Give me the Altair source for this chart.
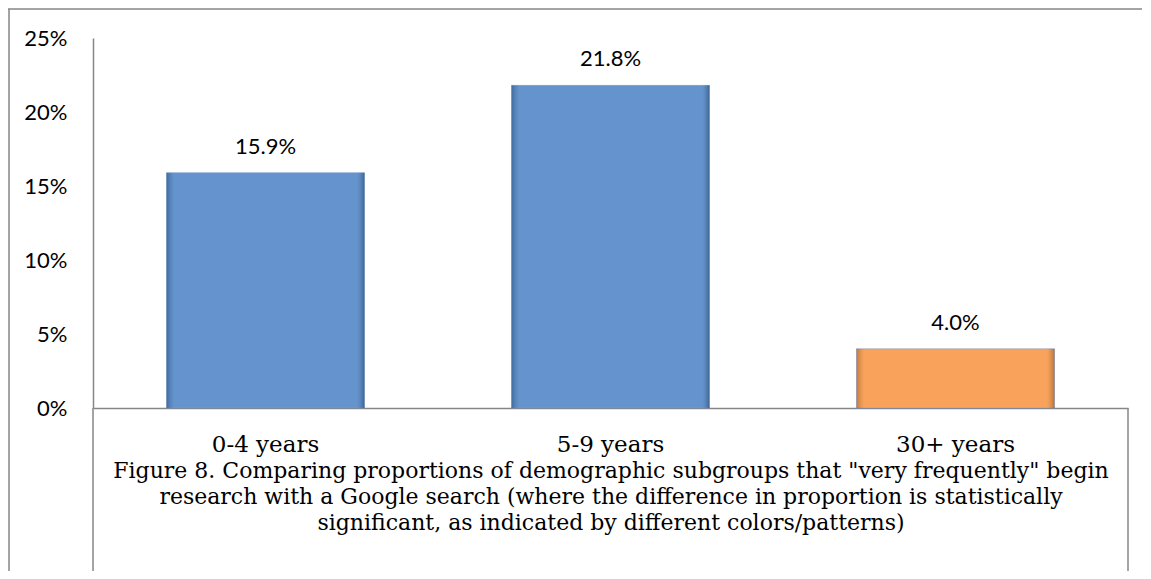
import altair as alt
import pandas as pd

categories = ["0-4 years", "5-9 years", "30+ years"]
values = [15.9, 21.8, 4.0]
groups = ["A", "A", "B"]
y_ticks = [0, 5, 10, 15, 20, 25]
caption = [
    'Figure 8. Comparing proportions of demographic subgroups that "very frequently" begin',
    'research with a Google search (where the difference in proportion is statistically',
    'significant, as indicated by different colors/patterns)',
]

df = pd.DataFrame({"cat": categories, "val": values, "grp": groups})

W, H = 1035, 370
AXIS_GRAY = "#868686"

x = alt.X("cat:N", sort=categories,
          scale=alt.Scale(paddingInner=0.426, paddingOuter=0.213),
          axis=alt.Axis(title=caption, labelAngle=0, ticks=False, domainColor=AXIS_GRAY,
                        domainWidth=1.5, labelFont="DejaVu Serif", labelFontSize=23,
                        labelColor="#000000", labelPadding=25,
                        titleFont="DejaVu Serif", titleFontSize=22, titleFontWeight="normal",
                        titleLineHeight=26, titleColor="#000000", titlePadding=4))
y = alt.Y("val:Q", scale=alt.Scale(domain=[0, 25], nice=False),
          axis=alt.Axis(title=None, values=y_ticks, ticks=False, grid=False,
                        domainColor=AXIS_GRAY, domainWidth=1.5,
                        labelExpr="datum.value + '%'", labelFont="Lato",
                        labelFontSize=22, labelColor="#000000", labelPadding=26))

base = alt.Chart(df)

bars = base.mark_bar(stroke="#6d94c8", strokeWidth=1, strokeOpacity=0.5).encode(
    x=x, y=y,
    color=alt.Color("grp:N", scale=alt.Scale(domain=["A", "B"], range=["#4f85c6", "#f79646"]),
                    legend=None),
)

bevel = base.mark_bar(
    color={"gradient": "linear", "x1": 0, "x2": 1, "y1": 0, "y2": 0,
           "stops": [{"offset": 0, "color": "rgba(0,0,0,0.2)"},
                     {"offset": 0.04, "color": "rgba(255,255,255,0.12)"},
                     {"offset": 0.96, "color": "rgba(255,255,255,0.12)"},
                     {"offset": 1, "color": "rgba(0,0,0,0.25)"}]}
).encode(x=x, y=y)

labels = base.transform_calculate(
    lab="format(datum.val, '.1f') + '%'"
).mark_text(font="Lato", fontSize=22, color="#000000", baseline="alphabetic", dy=-19).encode(
    x=x, y=y, text="lab:N"
)

one = alt.Data(values=[{"k": 1}])
frame_top = alt.Chart(one).mark_rule(color=AXIS_GRAY, strokeWidth=1.5).encode(
    x=alt.value(-85), x2=alt.value(1060), y=alt.value(-29))
frame_left = alt.Chart(one).mark_rule(color=AXIS_GRAY, strokeWidth=1.5).encode(
    x=alt.value(-84), y=alt.value(-29), y2=alt.value(560))
yline_down = alt.Chart(one).mark_rule(color=AXIS_GRAY, strokeWidth=1.5).encode(
    x=alt.value(0), y=alt.value(H), y2=alt.value(560))
right_line = alt.Chart(one).mark_rule(color=AXIS_GRAY, strokeWidth=1.5).encode(
    x=alt.value(W), y=alt.value(H), y2=alt.value(560))

chart = alt.layer(bars, bevel, labels, frame_top, frame_left, yline_down, right_line).properties(
    width=W, height=H,
    background="#ffffff",
    padding={"left": 85, "top": 30, "right": 14, "bottom": 163},
    autosize=alt.AutoSizeParams(type="none"),
).configure_view(strokeWidth=0, stroke=None)

chart.save("out.html", embed_options={"renderer": "svg", "actions": False})
